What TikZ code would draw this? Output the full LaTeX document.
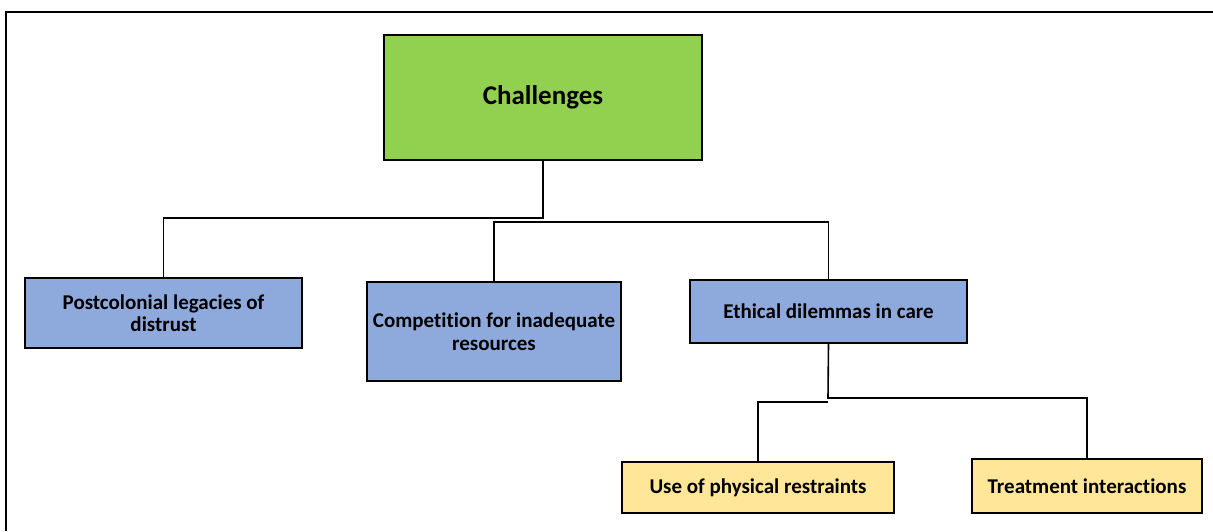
\documentclass[tikz,border=0pt]{standalone}
\usepackage{fontspec}
\setmainfont[Ligatures={NoCommon,NoRare}]{Carlito}
\definecolor{topgreen}{HTML}{92D050}
\definecolor{midblue}{HTML}{8EA9DB}
\definecolor{lowyellow}{HTML}{FFE699}

\begin{document}
\begin{tikzpicture}[x=1pt, y=-1pt,
  box/.style={draw, line width=1.6pt, align=center, font=\fontsize{21}{22.5}\selectfont\bfseries, inner sep=0pt},
  link/.style={line width=1.6pt}]
  \useasboundingbox (0,0) rectangle (1213,531);
  \draw[line width=2.4pt] (6,531) -- (6,12) -- (1213,12);
  \node[box, fill=topgreen, minimum width=318pt, minimum height=125pt, font=\fontsize{27}{30}\selectfont\bfseries] (chal) at (543,97.5) {Challenges};
  \node[box, fill=midblue, minimum width=277pt, minimum height=70pt] (post) at (163.5,313) {Postcolonial legacies of\\distrust};
  \node[box, fill=midblue, minimum width=254pt, minimum height=99pt] (comp) at (494,331.5) {Competition for inadequate\\resources};
  \node[box, fill=midblue, minimum width=277pt, minimum height=63pt] (eth) at (828.5,311.5) {Ethical dilemmas in care};
  \node[box, fill=lowyellow, minimum width=272pt, minimum height=51pt] (phys) at (758,487.5) {Use of physical restraints};
  \node[box, fill=lowyellow, minimum width=230pt, minimum height=54pt] (treat) at (1087,486) {Treatment interactions};
  \coordinate (j1) at (543,218);
  \coordinate (j2) at (543,222);
  \coordinate (k1) at (828,398);
  \coordinate (k2) at (828,402);
  \draw[link] (chal.south) -- (j1) -| (post.north);
  \draw[link] (comp.north) |- (j2) -| (eth.north);
  \draw[link] (eth.south) -- (k1) -| (treat.north);
  \draw[link] (k2) -| (phys.north);
\end{tikzpicture}
\end{document}
